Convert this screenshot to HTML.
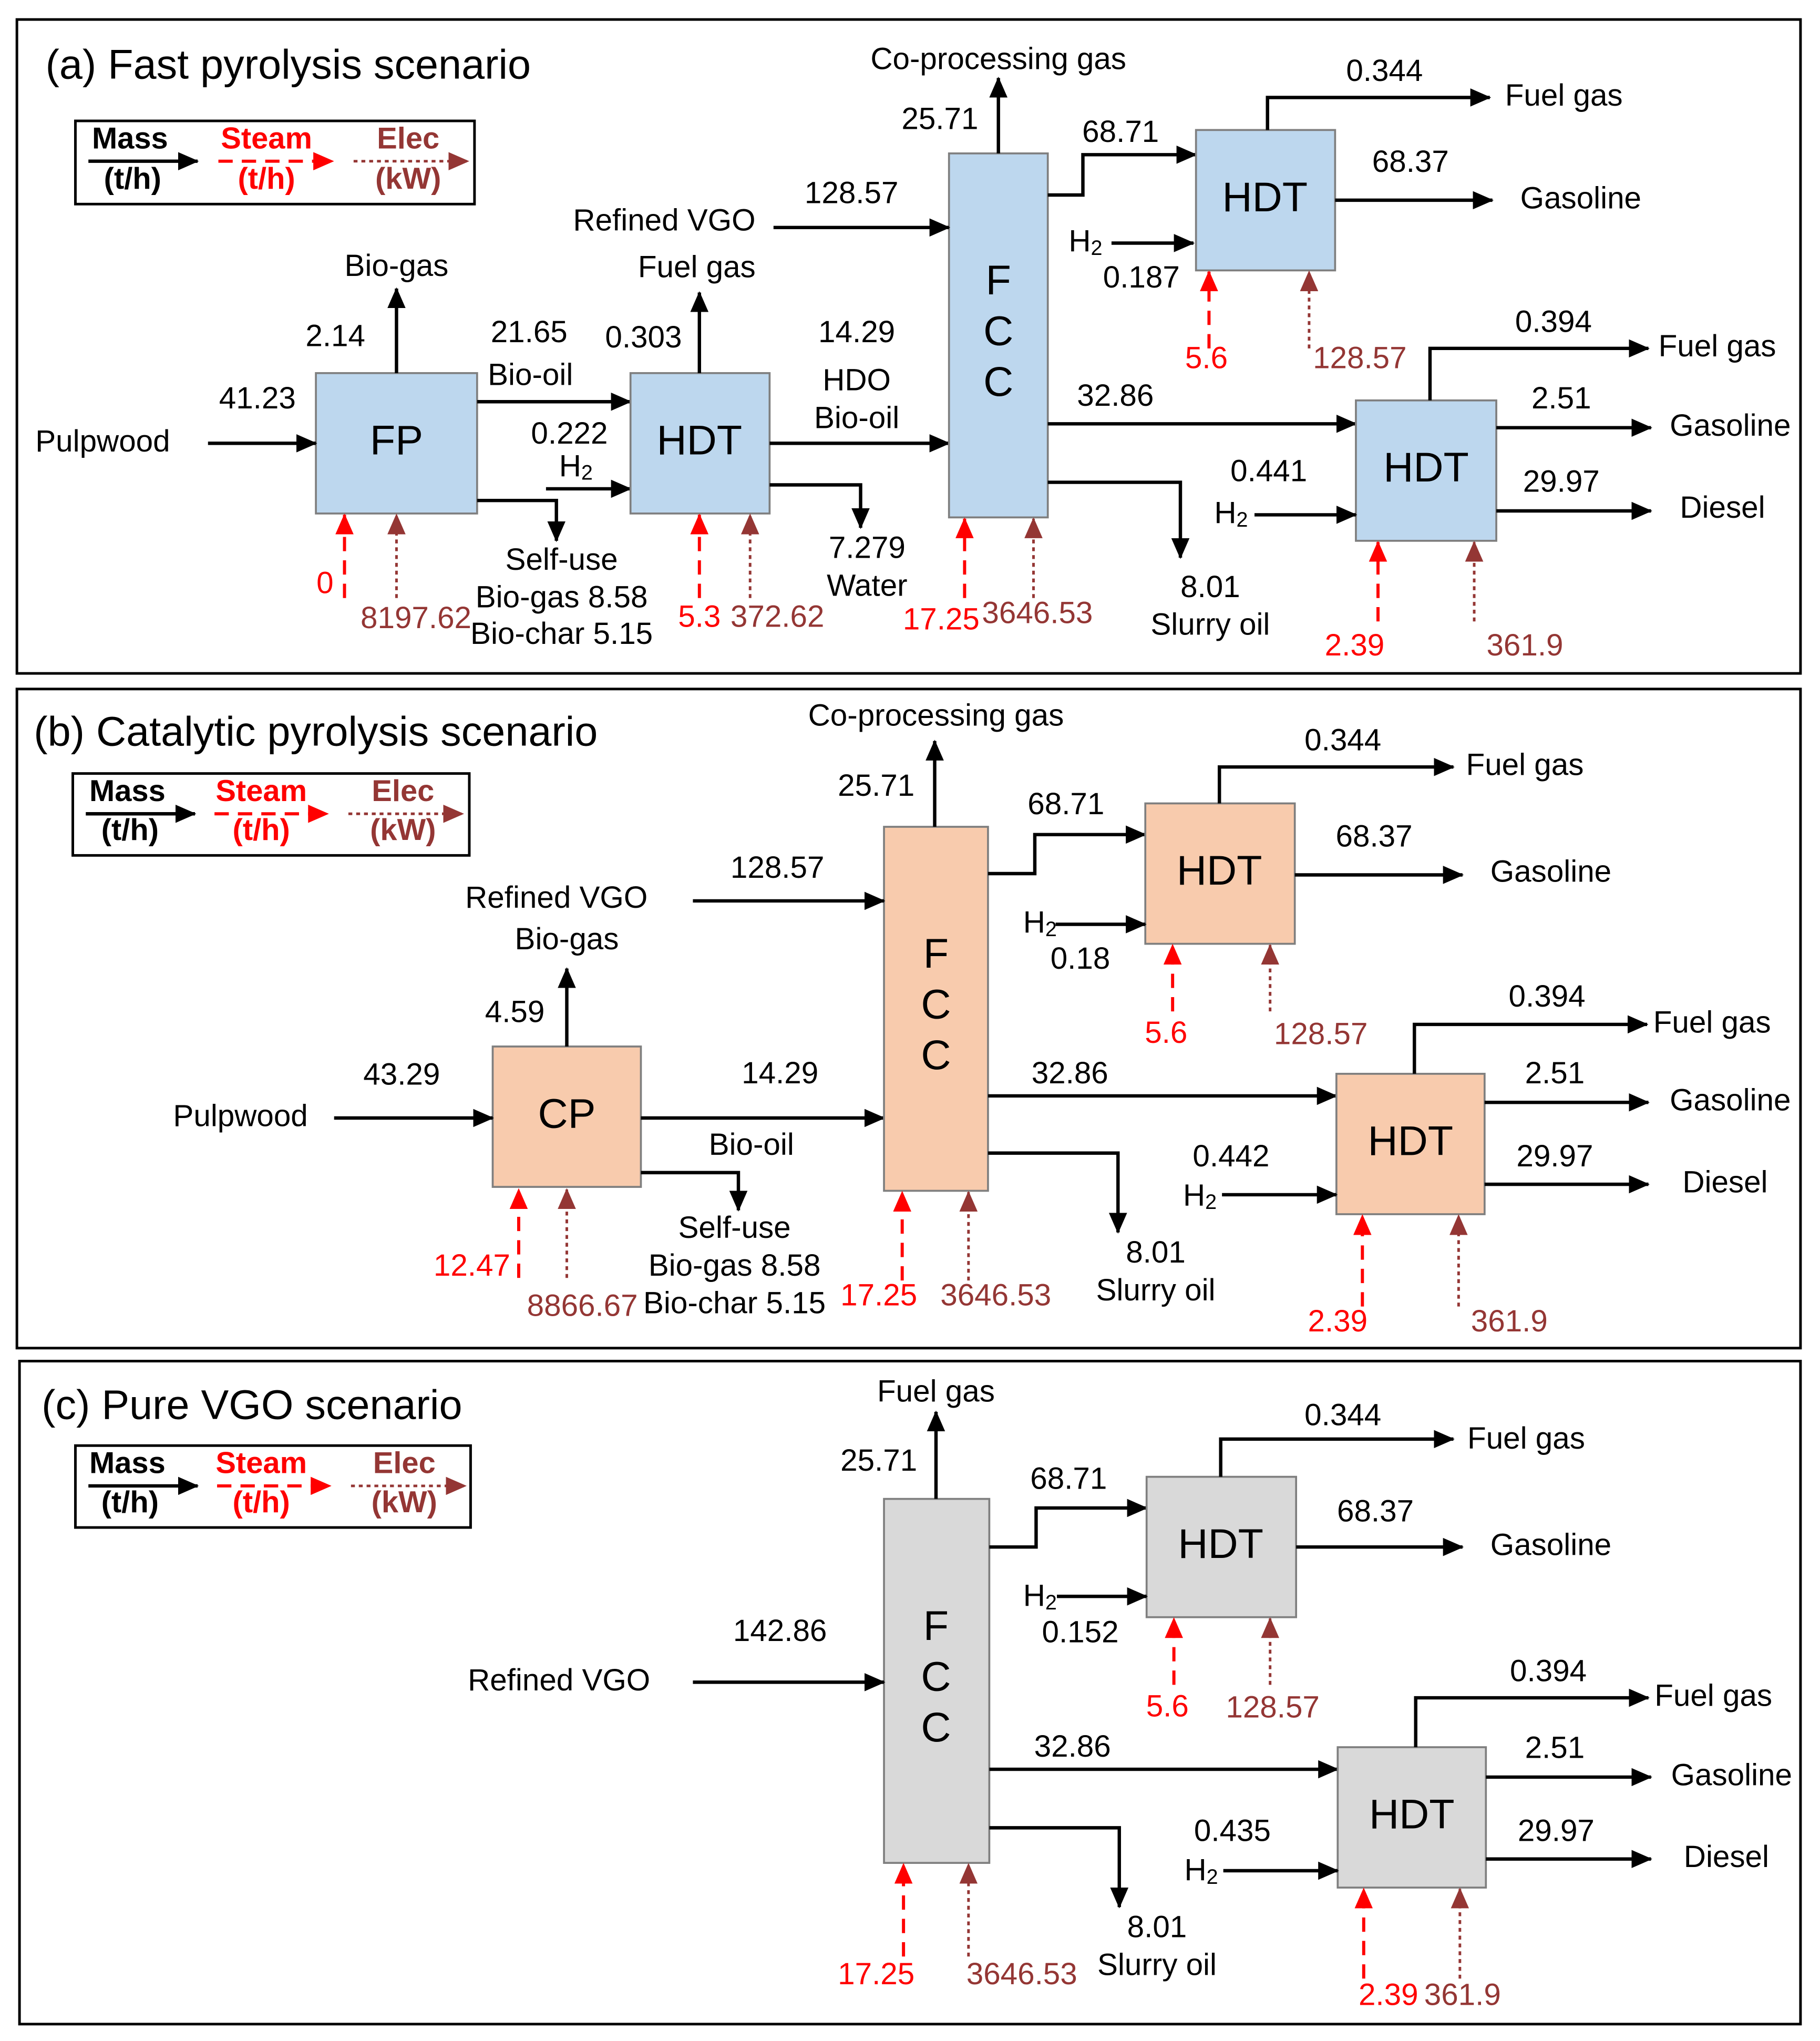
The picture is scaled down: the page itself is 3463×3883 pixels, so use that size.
<!DOCTYPE html>
<html><head><meta charset="utf-8"><style>
html,body{margin:0;padding:0;background:#fff}
svg{display:block}
text{font-family:"Liberation Sans",Arial,sans-serif;font-size:23.6px;fill:#000;text-anchor:middle;dominant-baseline:middle}
.t{font-size:32px;text-anchor:start}
.r{fill:#ff0000}.b{fill:#943634}
.bx{font-size:32px}
.lg{font-weight:bold;font-size:23.4px}
.k{stroke:#000;stroke-width:2.6;fill:none;marker-end:url(#ak)}
.rd{stroke:#ff0000;stroke-width:2.4;fill:none;stroke-dasharray:11,7;marker-end:url(#ar)}
.br{stroke:#943634;stroke-width:2;fill:none;stroke-dasharray:3,3;marker-end:url(#ab)}
.pn{fill:none;stroke:#000;stroke-width:2}
.lb{fill:#fff;stroke:#000;stroke-width:2}
.blue{fill:#bdd7ee;stroke:#7f7f7f;stroke-width:1.5}
.pe{fill:#f8cbad;stroke:#7f7f7f;stroke-width:1.5}
.gr{fill:#d9d9d9;stroke:#7f7f7f;stroke-width:1.5}
</style></head><body>
<svg width="3463" height="3883" viewBox="0 0 1400 1570" preserveAspectRatio="none" xmlns="http://www.w3.org/2000/svg">
<defs>
<marker id="ak" markerUnits="userSpaceOnUse" markerWidth="16" markerHeight="14" refX="15" refY="7" orient="auto"><path d="M0,0 L16,7 L0,14 Z" fill="#000"/></marker>
<marker id="ar" markerUnits="userSpaceOnUse" markerWidth="16" markerHeight="14" refX="15" refY="7" orient="auto"><path d="M0,0 L16,7 L0,14 Z" fill="#ff0000"/></marker>
<marker id="ab" markerUnits="userSpaceOnUse" markerWidth="16" markerHeight="14" refX="15" refY="7" orient="auto"><path d="M0,0 L16,7 L0,14 Z" fill="#943634"/></marker>
</defs>
<rect width="1400" height="1570" fill="#fff"/>

<!-- ===== Panel A ===== -->
<rect class="pn" x="13" y="15" width="1372" height="503"/>
<text class="t" x="35" y="52">(a) Fast pyrolysis scenario</text>
<rect class="lb" x="58" y="93" width="307" height="64"/>
<text class="lg" x="100" y="108">Mass</text><text class="lg" x="102" y="139">(t/h)</text>
<path class="k" d="M68,124 H152"/>
<text class="lg r" x="205" y="108">Steam</text><text class="lg r" x="205" y="139">(t/h)</text>
<path class="rd" d="M168,124 H256"/>
<text class="lg b" x="314" y="108">Elec</text><text class="lg b" x="314" y="139">(kW)</text>
<path class="br" d="M272,124 H360"/>

<rect class="blue" x="243" y="287" width="124" height="108"/><text class="bx" x="305" y="341">FP</text>
<text x="79" y="341">Pulpwood</text><path class="k" d="M160,341 H243"/><text x="198" y="308">41.23</text>
<path class="k" d="M305,287 V222"/><text x="305" y="206">Bio-gas</text><text x="258" y="260">2.14</text>
<path class="k" d="M367,309 H485"/><text x="407" y="257">21.65</text><text x="408" y="290">Bio-oil</text>
<path class="k" d="M367,385 H428 V416"/>
<text x="432" y="432">Self-use</text><text x="432" y="461">Bio-gas 8.58</text><text x="432" y="489">Bio-char 5.15</text>
<path class="k" d="M420,376 H485"/><text x="438" y="335">0.222</text><text x="443" y="360">H<tspan dy="5" font-size="16">2</tspan></text>
<path class="rd" d="M265,460 V396"/><text class="r" x="250" y="450">0</text>
<path class="br" d="M305,460 V396"/><text class="b" x="320" y="477">8197.62</text>

<rect class="blue" x="485" y="287" width="107" height="108"/><text class="bx" x="538" y="341">HDT</text>
<path class="k" d="M538,287 V225"/><text x="536" y="207">Fuel gas</text><text x="495" y="261">0.303</text>
<path class="k" d="M592,341 H730"/><text x="659" y="257">14.29</text><text x="659" y="294">HDO</text><text x="659" y="323">Bio-oil</text>
<path class="k" d="M592,373 H662 V406"/><text x="667" y="423">7.279</text><text x="667" y="452">Water</text>
<path class="rd" d="M538,460 V396"/><text class="r" x="538" y="476">5.3</text>
<path class="br" d="M577,460 V396"/><text class="b" x="598" y="476">372.62</text>

<rect class="blue" x="730" y="118" width="76" height="280"/>
<text class="bx" x="768" y="218">F</text><text class="bx" x="768" y="257">C</text><text class="bx" x="768" y="296">C</text>
<text x="511" y="171">Refined VGO</text><path class="k" d="M595,175 H730"/><text x="655" y="150">128.57</text>
<path class="k" d="M768,118 V60"/><text x="768" y="47">Co-processing gas</text><text x="723" y="93">25.71</text>
<path class="k" d="M806,150 H833 V119 H920"/><text x="862" y="103">68.71</text>
<rect class="blue" x="920" y="100" width="107" height="108"/><text class="bx" x="973" y="154">HDT</text>
<path class="k" d="M975,100 V75 H1146"/><text x="1065" y="56">0.344</text><text x="1203" y="75">Fuel gas</text>
<path class="k" d="M1027,154 H1148"/><text x="1085" y="126">68.37</text><text x="1216" y="154">Gasoline</text>
<path class="k" d="M855,187 H918"/><text x="835" y="187">H<tspan dy="5" font-size="16">2</tspan></text><text x="878" y="215">0.187</text>
<path class="rd" d="M930,268 V209"/><text class="r" x="928" y="277">5.6</text>
<path class="br" d="M1007,268 V209"/><text class="b" x="1046" y="277">128.57</text>
<path class="k" d="M806,326 H1043"/><text x="858" y="306">32.86</text>
<path class="k" d="M806,371 H908 V429"/><text x="931" y="453">8.01</text><text x="931" y="482">Slurry oil</text>
<path class="rd" d="M742,460 V399"/><text class="r" x="724" y="478">17.25</text>
<path class="br" d="M795,460 V399"/><text class="b" x="798" y="473">3646.53</text>

<rect class="blue" x="1043" y="308" width="108" height="108"/><text class="bx" x="1097" y="362">HDT</text>
<path class="k" d="M1100,308 V268 H1268"/><text x="1195" y="249">0.394</text><text x="1321" y="268">Fuel gas</text>
<path class="k" d="M1151,329 H1270"/><text x="1201" y="308">2.51</text><text x="1331" y="329">Gasoline</text>
<path class="k" d="M1151,393 H1270"/><text x="1201" y="372">29.97</text><text x="1325" y="392">Diesel</text>
<path class="k" d="M965,396 H1043"/><text x="976" y="364">0.441</text><text x="947" y="396">H<tspan dy="5" font-size="16">2</tspan></text>
<path class="rd" d="M1060,478 V417"/><text class="r" x="1042" y="498">2.39</text>
<path class="br" d="M1134,478 V417"/><text class="b" x="1173" y="498">361.9</text>

<!-- ===== Panel B ===== -->
<rect class="pn" x="13" y="530" width="1372" height="507"/>
<text class="t" x="26" y="565">(b) Catalytic pyrolysis scenario</text>
<rect class="lb" x="56" y="595" width="305" height="63"/>
<text class="lg" x="98" y="610">Mass</text><text class="lg" x="100" y="640">(t/h)</text>
<path class="k" d="M66,626 H150"/>
<text class="lg r" x="201" y="610">Steam</text><text class="lg r" x="201" y="640">(t/h)</text>
<path class="rd" d="M165,626 H252"/>
<text class="lg b" x="310" y="610">Elec</text><text class="lg b" x="310" y="640">(kW)</text>
<path class="br" d="M268,626 H356"/>

<rect class="pe" x="379" y="805" width="114" height="108"/><text class="bx" x="436" y="859">CP</text>
<text x="185" y="860">Pulpwood</text><path class="k" d="M257,860 H379"/><text x="309" y="828">43.29</text>
<path class="k" d="M436,805 V745"/><text x="436" y="724">Bio-gas</text><text x="428" y="692">Refined VGO</text><text x="396" y="780">4.59</text>
<path class="k" d="M493,860 H680"/><text x="600" y="827">14.29</text><text x="578" y="882">Bio-oil</text>
<path class="k" d="M493,902 H568 V931"/>
<text x="565" y="946">Self-use</text><text x="565" y="975">Bio-gas 8.58</text><text x="565" y="1004">Bio-char 5.15</text>
<path class="rd" d="M399,983 V915"/><text class="r" x="363" y="975">12.47</text>
<path class="br" d="M436,983 V915"/><text class="b" x="448" y="1006">8866.67</text>

<rect class="pe" x="680" y="636" width="80" height="280"/>
<text class="bx" x="720" y="736">F</text><text class="bx" x="720" y="775">C</text><text class="bx" x="720" y="814">C</text>
<path class="k" d="M533,693 H680"/><text x="598" y="669">128.57</text>
<path class="k" d="M719,636 V570"/><text x="720" y="552">Co-processing gas</text><text x="674" y="606">25.71</text>
<path class="k" d="M760,672 H796 V642 H881"/><text x="820" y="620">68.71</text>
<rect class="pe" x="881" y="618" width="115" height="108"/><text class="bx" x="938" y="672">HDT</text>
<path class="k" d="M938,618 V590 H1118"/><text x="1033" y="571">0.344</text><text x="1173" y="590">Fuel gas</text>
<path class="k" d="M996,673 H1125"/><text x="1057" y="645">68.37</text><text x="1193" y="672">Gasoline</text>
<path class="k" d="M812,711 H881"/><text x="800" y="711">H<tspan dy="5" font-size="16">2</tspan></text><text x="831" y="739">0.18</text>
<path class="rd" d="M902,778 V727"/><text class="r" x="897" y="796">5.6</text>
<path class="br" d="M977,778 V727"/><text class="b" x="1016" y="797">128.57</text>
<path class="k" d="M760,843 H1028"/><text x="823" y="827">32.86</text>
<path class="k" d="M760,887 H860 V948"/><text x="889" y="965">8.01</text><text x="889" y="994">Slurry oil</text>
<path class="rd" d="M694,985 V917"/><text class="r" x="676" y="998">17.25</text>
<path class="br" d="M745,985 V917"/><text class="b" x="766" y="998">3646.53</text>

<rect class="pe" x="1028" y="826" width="114" height="108"/><text class="bx" x="1085" y="880">HDT</text>
<path class="k" d="M1088,826 V788 H1267"/><text x="1190" y="768">0.394</text><text x="1317" y="788">Fuel gas</text>
<path class="k" d="M1142,848 H1268"/><text x="1196" y="827">2.51</text><text x="1331" y="848">Gasoline</text>
<path class="k" d="M1142,911 H1268"/><text x="1196" y="891">29.97</text><text x="1327" y="911">Diesel</text>
<path class="k" d="M940,919 H1028"/><text x="947" y="891">0.442</text><text x="923" y="921">H<tspan dy="5" font-size="16">2</tspan></text>
<path class="rd" d="M1048,1005 V935"/><text class="r" x="1029" y="1018">2.39</text>
<path class="br" d="M1122,1005 V935"/><text class="b" x="1161" y="1018">361.9</text>

<!-- ===== Panel C ===== -->
<rect class="pn" x="15" y="1047" width="1370" height="510"/>
<text class="t" x="32" y="1083">(c) Pure VGO scenario</text>
<rect class="lb" x="58" y="1112" width="304" height="63"/>
<text class="lg" x="98" y="1127">Mass</text><text class="lg" x="100" y="1157">(t/h)</text>
<path class="k" d="M68,1143 H152"/>
<text class="lg r" x="201" y="1127">Steam</text><text class="lg r" x="201" y="1157">(t/h)</text>
<path class="rd" d="M167,1143 H254"/>
<text class="lg b" x="311" y="1127">Elec</text><text class="lg b" x="311" y="1157">(kW)</text>
<path class="br" d="M270,1143 H358"/>

<rect class="gr" x="680" y="1153" width="81" height="280"/>
<text class="bx" x="720" y="1253">F</text><text class="bx" x="720" y="1292">C</text><text class="bx" x="720" y="1331">C</text>
<text x="430" y="1294">Refined VGO</text><path class="k" d="M533,1294 H680"/><text x="600" y="1256">142.86</text>
<path class="k" d="M720,1153 V1086"/><text x="720" y="1072">Fuel gas</text><text x="676" y="1125">25.71</text>
<path class="k" d="M761,1190 H797 V1160 H882"/><text x="822" y="1139">68.71</text>
<rect class="gr" x="882" y="1136" width="115" height="108"/><text class="bx" x="939" y="1190">HDT</text>
<path class="k" d="M939,1136 V1107 H1118"/><text x="1033" y="1090">0.344</text><text x="1174" y="1108">Fuel gas</text>
<path class="k" d="M997,1190 H1125"/><text x="1058" y="1164">68.37</text><text x="1193" y="1190">Gasoline</text>
<path class="k" d="M813,1228 H882"/><text x="800" y="1229">H<tspan dy="5" font-size="16">2</tspan></text><text x="831" y="1257">0.152</text>
<path class="rd" d="M903,1296 V1245"/><text class="r" x="898" y="1314">5.6</text>
<path class="br" d="M977,1296 V1245"/><text class="b" x="979" y="1315">128.57</text>
<path class="k" d="M761,1361 H1029"/><text x="825" y="1345">32.86</text>
<path class="k" d="M761,1406 H861 V1467"/><text x="890" y="1484">8.01</text><text x="890" y="1513">Slurry oil</text>
<path class="rd" d="M695,1505 V1434"/><text class="r" x="674" y="1520">17.25</text>
<path class="br" d="M745,1505 V1434"/><text class="b" x="786" y="1520">3646.53</text>

<rect class="gr" x="1029" y="1344" width="114" height="108"/><text class="bx" x="1086" y="1398">HDT</text>
<path class="k" d="M1089,1344 V1306 H1268"/><text x="1191" y="1287">0.394</text><text x="1318" y="1306">Fuel gas</text>
<path class="k" d="M1143,1367 H1270"/><text x="1196" y="1346">2.51</text><text x="1332" y="1367">Gasoline</text>
<path class="k" d="M1143,1430 H1270"/><text x="1197" y="1410">29.97</text><text x="1328" y="1430">Diesel</text>
<path class="k" d="M941,1439 H1029"/><text x="948" y="1410">0.435</text><text x="924" y="1440">H<tspan dy="5" font-size="16">2</tspan></text>
<path class="rd" d="M1049,1522 V1453"/><text class="r" x="1068" y="1536">2.39</text>
<path class="br" d="M1123,1522 V1453"/><text class="b" x="1125" y="1536">361.9</text>
</svg>
</body></html>
